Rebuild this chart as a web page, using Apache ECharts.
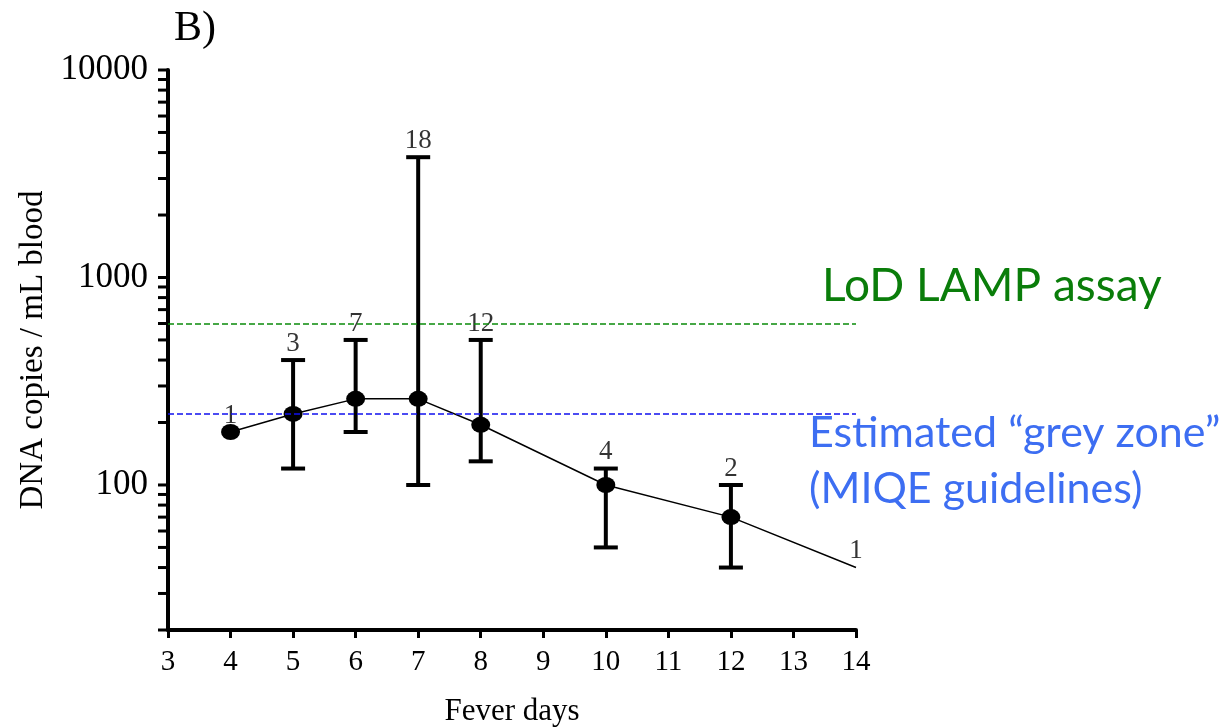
<!DOCTYPE html>
<html>
<head>
<meta charset="utf-8">
<script src="https://cdn.jsdelivr.net/npm/echarts@6/dist/echarts.min.js"></script>
<style>
html, body { margin: 0; padding: 0; background: #fff; }
#chart { width: 1229px; height: 728px; }
</style>
</head>
<body>
<div id="chart"></div>
<script>
// fever day vs DNA copies / mL blood (median with range)
const days = [4, 5, 6, 7, 8, 10, 12, 14];
const copies = [180, 220, 260, 260, 195, 100, 70, 40];
const errLow = [null, 120, 180, 100, 130, 50, 40, null];
const errHigh = [null, 400, 500, 3800, 500, 120, 100, null];
const counts = [1, 3, 7, 18, 12, 4, 2, 1];
const lodLamp = 600;
const greyZone = 220;
const yLabelTicks = [100, 1000, 10000];
const yTicks = [20, 30, 40, 50, 60, 70, 80, 90,
  100, 200, 300, 400, 500, 600, 700, 800, 900,
  1000, 2000, 3000, 4000, 5000, 6000, 7000, 8000, 9000, 10000];

const serif = "Liberation Serif";

const lineData = days.map((d, i) => {
  if (i === days.length - 1) return { value: [d, copies[i]], symbol: "none" };
  return [d, copies[i]];
});
const errData = [];
days.forEach((d, i) => {
  if (errLow[i] != null) errData.push([d, errLow[i], errHigh[i]]);
});
const countData = days.map((d, i) => [d, errHigh[i] != null ? errHigh[i] : copies[i]]);

const option = {
  animation: false,
  backgroundColor: "#fff",
  grid: { left: 168, right: 373, top: 70, bottom: 98, containLabel: false, outerBoundsMode: "none" },
  xAxis: {
    type: "value",
    min: 3,
    max: 14,
    interval: 1,
    name: "Fever days",
    nameLocation: "middle",
    nameGap: 66,
    nameTextStyle: { fontFamily: serif, fontSize: 31, color: "#000" },
    axisLine: { lineStyle: { color: "#000", width: 4 } },
    axisTick: { length: 8, lineStyle: { color: "#000", width: 3 } },
    axisLabel: { fontFamily: serif, fontSize: 29, color: "#000", margin: 18 },
    splitLine: { show: false },
  },
  yAxis: {
    type: "log",
    logBase: 10,
    min: 20,
    max: 10000,
    name: "DNA copies / mL blood",
    nameLocation: "middle",
    nameGap: 118,
    nameTextStyle: { fontFamily: serif, fontSize: 33, color: "#000" },
    axisLine: { lineStyle: { color: "#000", width: 4 } },
    axisTick: { show: false },
    axisLabel: {
      fontFamily: serif,
      fontSize: 35,
      color: "#000",
      margin: 20,
      formatter: function (v) {
        const r = Math.round(v);
        return yLabelTicks.indexOf(r) >= 0 ? String(r) : "";
      },
    },
    splitLine: { show: false },
  },
  graphic: [
    {
      type: "text",
      left: 174,
      top: 8,
      style: { text: "B)", font: "42px " + serif, fill: "#000" },
    },
    {
      type: "text",
      left: 822,
      top: 263,
      style: { text: "LoD LAMP assay", font: "46px Lato", fill: "#0a7d0a" },
    },
    {
      type: "text",
      left: 809,
      top: 405,
      style: {
        text: "Estimated \u201cgrey zone\u201d\n(MIQE guidelines)",
        font: "43px Lato",
        lineHeight: 56,
        fill: "#3d6ef2",
      },
    },
  ],
  series: [
    {
      // y-axis ticks (log minor + major)
      type: "custom",
      silent: true,
      clip: false,
      data: yTicks.map((t) => [3, t]),
      renderItem: function (params, api) {
        const p = api.coord([api.value(0), api.value(1)]);
        return {
          type: "line",
          shape: { x1: p[0] - 10, y1: p[1], x2: p[0], y2: p[1] },
          style: { stroke: "#000", lineWidth: 3 },
        };
      },
      z: 1,
    },
    {
      type: "custom",
      silent: true,
      clip: false,
      data: errData,
      encode: { x: 0, y: [1, 2] },
      renderItem: function (params, api) {
        const x = api.value(0);
        const lo = api.coord([x, api.value(1)]);
        const hi = api.coord([x, api.value(2)]);
        const cap = 12;
        const st = { stroke: "#000", lineWidth: 4 };
        return {
          type: "group",
          children: [
            { type: "line", shape: { x1: lo[0], y1: lo[1], x2: hi[0], y2: hi[1] }, style: st },
            { type: "line", shape: { x1: lo[0] - cap, y1: lo[1], x2: lo[0] + cap, y2: lo[1] }, style: st },
            { type: "line", shape: { x1: hi[0] - cap, y1: hi[1], x2: hi[0] + cap, y2: hi[1] }, style: st },
          ],
        };
      },
      z: 2,
    },
    {
      type: "line",
      data: lineData,
      symbol: "circle",
      symbolSize: [19, 16],
      itemStyle: { color: "#000" },
      lineStyle: { color: "#000", width: 1.5 },
      z: 3,
      markLine: {
        silent: true,
        symbol: "none",
        label: { show: false },
        data: [
          { yAxis: lodLamp, lineStyle: { color: "#0a8a0a", type: [6, 3], width: 1.5 } },
          { yAxis: greyZone, lineStyle: { color: "#1010ee", type: [6, 3], width: 1.5 } },
        ],
      },
    },
    {
      type: "scatter",
      data: countData,
      symbolSize: 0,
      silent: true,
      label: {
        show: true,
        position: "top",
        distance: 3,
        fontFamily: serif,
        fontSize: 27,
        color: "#000",
        formatter: function (p) {
          return String(counts[p.dataIndex]);
        },
      },
      z: 4,
    },
  ],
};

const myChart = echarts.init(document.getElementById("chart"));
myChart.setOption(option);
</script>
</body>
</html>
